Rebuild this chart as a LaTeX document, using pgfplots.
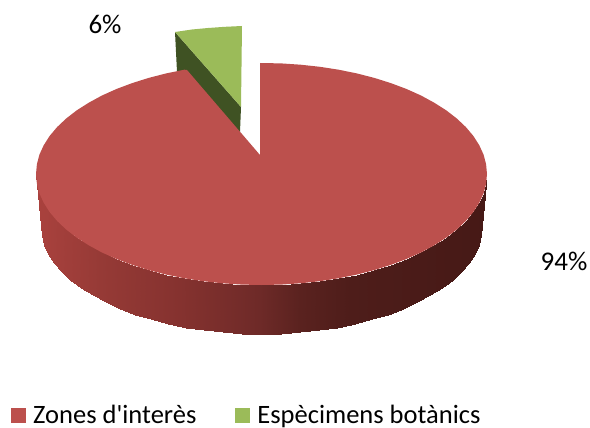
\documentclass[border=0pt]{standalone}
\usepackage{pgfplots}
\pgfplotsset{compat=1.18}
\usepackage{fontspec}
\setmainfont{Carlito}[Ligatures=TeXOff]
\definecolor{redtop}{HTML}{BC504D}
\definecolor{greentop}{HTML}{9BBB59}
\definecolor{greenside}{HTML}{3F5223}
\begin{document}
\begin{tikzpicture}
\path[use as bounding box] (0,0) rectangle (590pt,428pt);
\begin{axis}[
  at={(0,0)}, anchor=south west, scale only axis, width=590pt, height=428pt,
  xmin=0, xmax=590, ymin=0, ymax=428, y dir=reverse,
  hide axis, clip=false,
  colormap={side}{rgb255(36pt)=(170,66,62) rgb255(100pt)=(150,58,54) rgb255(180pt)=(133,50,47) rgb255(260pt)=(110,42,40) rgb255(300pt)=(90,34,31) rgb255(350pt)=(78,29,26) rgb255(487pt)=(70,25,22)},
  point meta min=36, point meta max=487,
  legend columns=2,
  legend style={at={(axis cs:11,415)}, anchor=west, draw=none, fill=none, inner sep=0pt, font=\fontsize{26.5}{28}\selectfont,
    nodes={inner ysep=0pt},
    /tikz/every odd column/.append style={column sep=5pt},
    /tikz/every even column/.append style={column sep=37pt}},
  legend image code/.code={\fill[draw=none,#1] (0pt,-7.5pt) rectangle (15pt,7.5pt);},
]
% green slice side
\addplot[fill=greenside, draw=none, forget plot] coordinates {(175,32)(241,107)(240,132)(177,72)} -- cycle;
% green slice top
\addplot[fill=greentop, draw=none, forget plot] coordinates {(175,32)(192,29.5)(208,28)(225,26.8)(242,26)(241,107)} -- cycle;
% red side
\addplot[surf, shader=interp, mesh/rows=2, mesh/cols=37, point meta=x, forget plot] table {
36.0 174.0
36.9 183.7
39.4 193.3
43.7 202.7
49.6 212.0
57.1 220.9
66.2 229.5
76.8 237.7
88.8 245.3
102.0 252.5
116.5 259.0
132.2 264.9
148.7 270.1
166.2 274.6
184.4 278.3
203.1 281.2
222.4 283.3
241.8 284.6
261.5 285.0
281.2 284.6
300.6 283.3
319.9 281.2
338.6 278.3
356.8 274.6
374.3 270.1
390.8 264.9
406.5 259.0
421.0 252.5
434.2 245.3
446.2 237.7
456.8 229.5
465.9 220.9
473.4 212.0
479.3 202.7
483.6 193.3
486.1 183.7
487.0 174.0
41.0 226.0
41.8 235.4
44.3 244.8
48.5 254.0
54.3 262.9
61.7 271.6
70.5 280.0
80.9 287.9
92.6 295.4
105.6 302.4
119.8 308.7
135.0 314.5
151.2 319.5
168.3 323.9
186.1 327.5
204.4 330.3
223.2 332.4
242.3 333.6
261.5 334.0
280.7 333.6
299.8 332.4
318.6 330.3
336.9 327.5
354.7 323.9
371.8 319.5
388.0 314.5
403.2 308.7
417.4 302.4
430.4 295.4
442.1 287.9
452.5 280.0
461.3 271.6
468.7 262.9
474.5 254.0
478.7 244.8
481.2 235.4
482.0 226.0
};
% red top
\addplot[fill=redtop, draw=none, forget plot] coordinates {
(260,155)(260,63)(281.2,63.4)(300.6,64.7)(319.9,66.8)(338.6,69.7)(356.8,73.4)(374.3,77.9)(390.8,83.1)(406.5,89.0)(421.0,95.5)(434.2,102.7)(446.2,110.3)(456.8,118.5)(465.9,127.1)(473.4,136.0)(479.3,145.3)(483.6,154.7)(486.1,164.3)(487.0,174.0)
(486.1,183.7)(483.6,193.3)(479.3,202.7)(473.4,212.0)(465.9,220.9)(456.8,229.5)(446.2,237.7)(434.2,245.3)(421.0,252.5)(406.5,259.0)(390.8,264.9)(374.3,270.1)(356.8,274.6)(338.6,278.3)(319.9,281.2)(300.6,283.3)(281.2,284.6)(261.5,285)
(241.8,284.6)(222.4,283.3)(203.1,281.2)(184.4,278.3)(166.2,274.6)(148.7,270.1)(132.2,264.9)(116.5,259.0)(102.0,252.5)(88.8,245.3)(76.8,237.7)(66.2,229.5)(57.1,220.9)(49.6,212.0)(43.7,202.7)(39.4,193.3)(36.9,183.7)(36.0,174)
(36.9,164.3)(39.4,154.7)(43.7,145.3)(49.6,136.0)(57.1,127.1)(66.2,118.5)(76.8,110.3)(88.8,102.7)(102.0,95.5)(116.5,89.0)(132.2,83.1)(148.7,77.9)(166.2,73.4)(184.4,69.7)(187,70)
} -- cycle;
\addlegendimage{fill=redtop}
\addlegendentry{Zones d'interès}
\addlegendimage{fill=greentop}
\addlegendentry{Espècimens botànics}
\node[font=\fontsize{27}{29}\selectfont] at (axis cs:105,24) {6\%};
\node[font=\fontsize{27}{29}\selectfont] at (axis cs:564,261) {94\%};
\end{axis}
\end{tikzpicture}
\end{document}
